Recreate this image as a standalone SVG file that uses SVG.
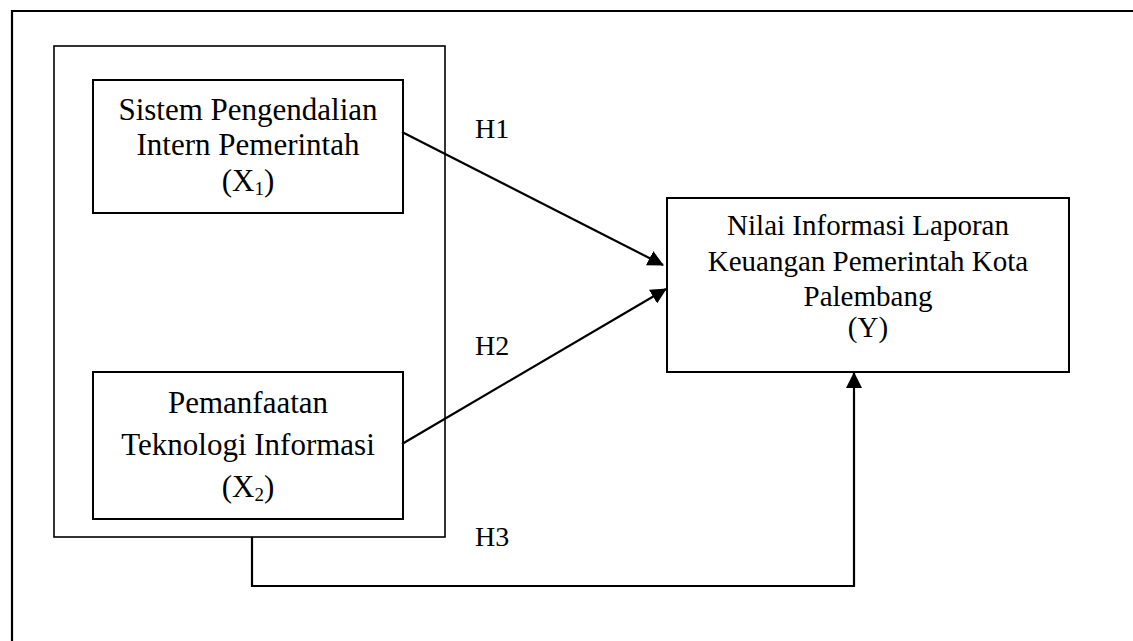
<svg xmlns="http://www.w3.org/2000/svg" width="1133" height="641" viewBox="0 0 1133 641">
<style>
.box{fill:none;stroke:#000;stroke-width:2}
.grp{fill:none;stroke:#000;stroke-width:1.6}
.frame{fill:none;stroke:#000;stroke-width:2.2}
.con{fill:none;stroke:#000;stroke-width:2.2}
text{font-family:"Liberation Serif","Times New Roman",serif;fill:#000}
.lt{font-size:31px;text-anchor:middle}
.rt{font-size:29px;text-anchor:middle}
.lab{font-size:28px}
.sub{font-size:19px}
</style>
<defs>
<marker id="arr" markerUnits="userSpaceOnUse" markerWidth="16" markerHeight="16" viewBox="0 0 16 16" refX="15" refY="8" orient="auto">
<path d="M0,0 L16,8 L0,16 Z" fill="#000"/>
</marker>
</defs>
<rect width="1133" height="641" fill="#fff"/>
<g id="frame">
<path class="frame" d="M12,660 L12,11 L1150,11"/>
</g>
<g id="group">
<rect class="grp" x="54" y="46" width="391" height="491"/>
</g>
<g id="x1">
<rect class="box" x="93" y="80" width="310" height="133"/>
<text class="lt" x="248" y="120">Sistem Pengendalian</text>
<text class="lt" x="248" y="155">Intern Pemerintah</text>
<text class="lt" x="248" y="191">(X<tspan class="sub" dy="4">1</tspan><tspan dy="-4">)</tspan></text>
</g>
<g id="x2">
<rect class="box" x="93" y="372" width="310" height="147"/>
<text class="lt" x="248" y="413">Pemanfaatan</text>
<text class="lt" x="248" y="455">Teknologi Informasi</text>
<text class="lt" x="248" y="497">(X<tspan class="sub" dy="4">2</tspan><tspan dy="-4">)</tspan></text>
</g>
<g id="y">
<rect class="box" x="667" y="198" width="402" height="174"/>
<text class="rt" x="868" y="235">Nilai Informasi Laporan</text>
<text class="rt" x="868" y="271">Keuangan Pemerintah Kota</text>
<text class="rt" x="868" y="306">Palembang</text>
<text class="rt" x="868" y="337">(Y)</text>
</g>
<g id="connectors">
<line class="con" x1="402" y1="132" x2="663" y2="265" marker-end="url(#arr)"/>
<line class="con" x1="402" y1="444" x2="666" y2="289" marker-end="url(#arr)"/>
<path class="con" d="M252,537 L252,586 L854,586 L854,373" marker-end="url(#arr)"/>
</g>
<g id="labels">
<text class="lab" x="475" y="138">H1</text>
<text class="lab" x="475" y="355">H2</text>
<text class="lab" x="475" y="546">H3</text>
</g>
</svg>
